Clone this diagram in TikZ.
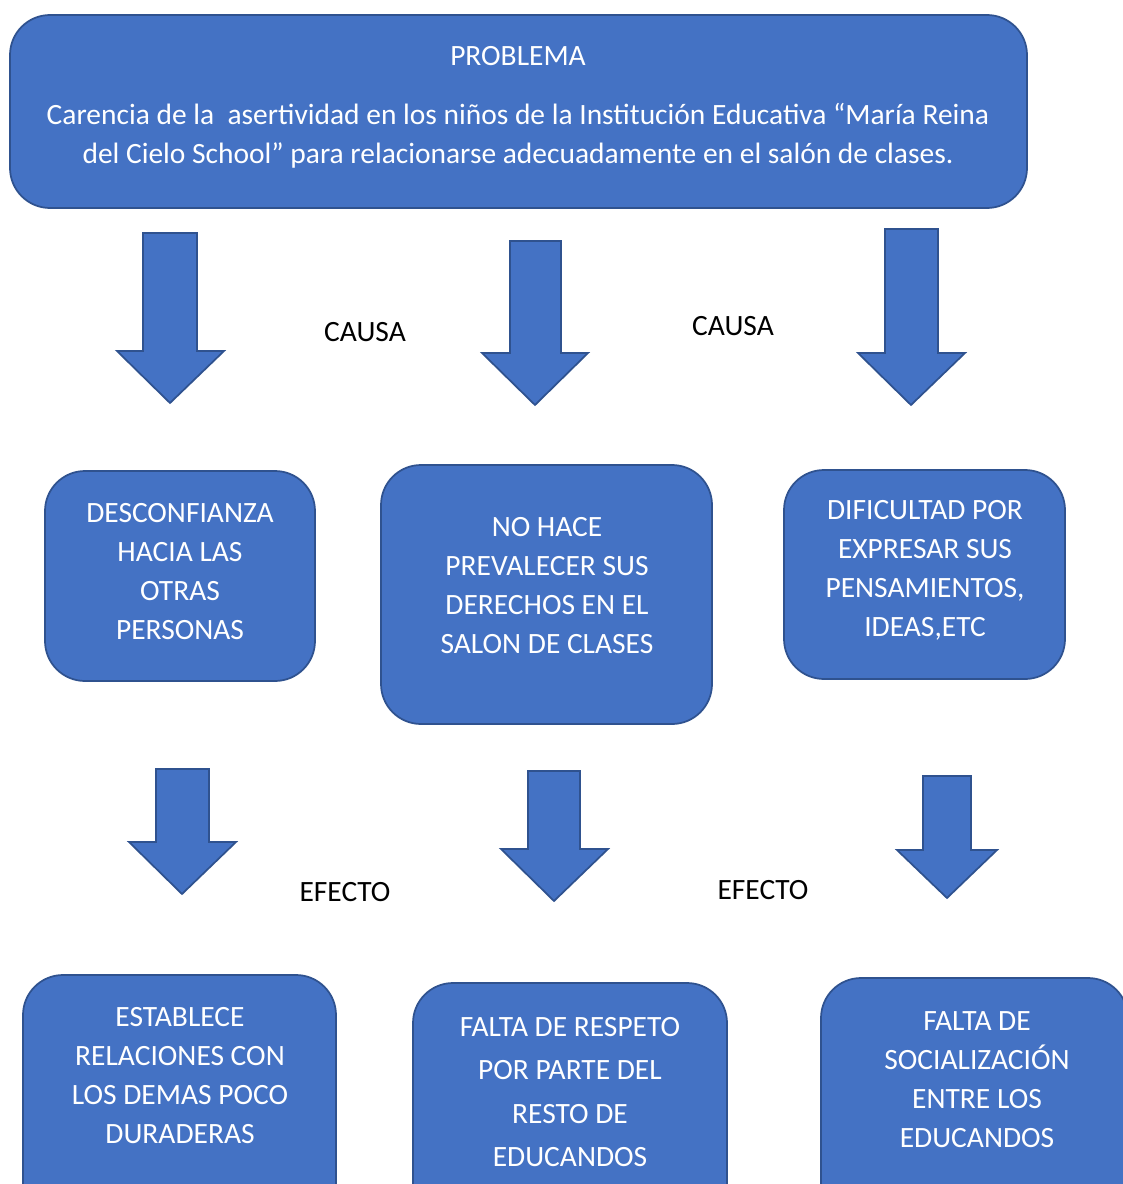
\documentclass[tikz,border=0pt]{standalone}
\usepackage{fontspec}
\setmainfont{Carlito}
\definecolor{boxfill}{HTML}{4472C4}
\definecolor{boxline}{HTML}{2F528F}
\begin{document}
\begin{tikzpicture}[x=0.75pt,y=-0.75pt,
  blueshape/.style={fill=boxfill,draw=boxline,line width=1.3pt,line join=miter},
  roundbox/.style={blueshape,rounded corners=30pt},
  boxtext/.style={font=\fontsize{22.1}{29.25}\selectfont,align=center,inner sep=0pt,text=white},
  tagtext/.style={font=\fontsize{22.1}{29.25}\selectfont,inner sep=0pt,text=black}]
\useasboundingbox (0,0) rectangle (1123,1184);
\clip (0,0) rectangle (1123,1184);
% top box
\draw[roundbox] (10,15) rectangle (1027,208);
\node[boxtext] (ptitle) at (518,56) {PROBLEMA};
\node[boxtext] (pbody) at (518,135.5) {Carencia de la \ asertividad en los niños de la Institución Educativa “María Reina\\del Cielo School” para relacionarse adecuadamente en el salón de clases.};
% cause arrows
\draw[blueshape] (143,233) -- (197,233) -- (197,351) -- (224,351) -- (170,403) -- (117,351) -- (143,351) -- cycle;
\draw[blueshape] (510,241) -- (561,241) -- (561,353) -- (588,353) -- (535,405) -- (482,353) -- (510,353) -- cycle;
\draw[blueshape] (885,229) -- (938,229) -- (938,353) -- (965,353) -- (911,405) -- (858,353) -- (885,353) -- cycle;
\node[tagtext] (causa1) at (365,332) {CAUSA};
\node[tagtext] (causa2) at (733,326) {CAUSA};
% second row boxes
\draw[roundbox] (45,471) rectangle (315,681);
\node[boxtext] (c1) at (180,571.5) {DESCONFIANZA\\HACIA LAS\\OTRAS\\PERSONAS};
\draw[roundbox] (381,465) rectangle (712,724);
\node[boxtext] (c2) at (547,585.5) {NO HACE\\PREVALECER SUS\\DERECHOS EN EL\\SALON DE CLASES};
\draw[roundbox] (784,470) rectangle (1065,679);
\node[boxtext] (c3) at (925,570.5) {DIFICULTAD POR\\EXPRESAR SUS\\PENSAMIENTOS,\\IDEAS,ETC};
% effect arrows
\draw[blueshape] (156,769) -- (209,769) -- (209,842) -- (236,842) -- (182,894) -- (129,842) -- (156,842) -- cycle;
\draw[blueshape] (528,771) -- (580,771) -- (580,849) -- (608,849) -- (554,901) -- (501,849) -- (528,849) -- cycle;
\draw[blueshape] (923,776) -- (971,776) -- (971,850) -- (997,850) -- (947,898) -- (897,850) -- (923,850) -- cycle;
\node[tagtext] (efecto1) at (345,892) {EFECTO};
\node[tagtext] (efecto2) at (763,890) {EFECTO};
% bottom row boxes
\draw[roundbox] (23,975) rectangle (336,1240);
\node[boxtext] (e1) at (180,1076) {ESTABLECE\\RELACIONES CON\\LOS DEMAS POCO\\DURADERAS};
\draw[roundbox] (413,983) rectangle (727,1240);
\node[boxtext,font=\fontsize{22.1}{32.6}\selectfont] (e2) at (570,1092) {FALTA DE RESPETO\\POR PARTE DEL\\RESTO DE\\EDUCANDOS};
\draw[roundbox] (821,978) rectangle (1128,1240);
\node[boxtext] (e3) at (977,1080) {FALTA DE\\SOCIALIZACIÓN\\ENTRE LOS\\EDUCANDOS};
\end{tikzpicture}
\end{document}
